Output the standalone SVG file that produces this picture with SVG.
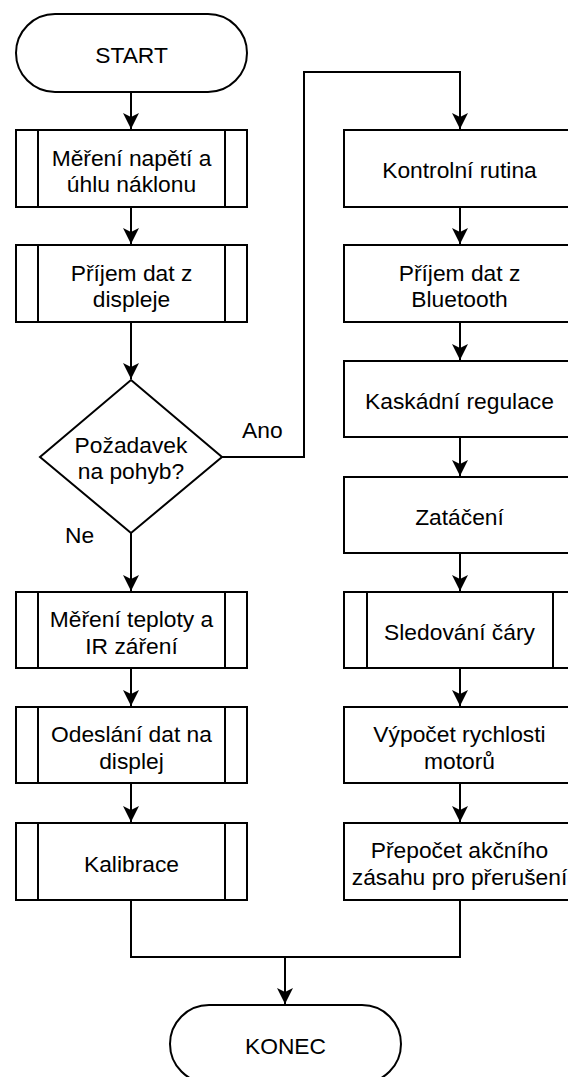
<svg xmlns="http://www.w3.org/2000/svg" width="568" height="1077" viewBox="0 0 568 1077">
  <style>
    .shape { fill: #ffffff; stroke: #000000; stroke-width: 2; }
    .bar { fill: none; stroke: #000000; stroke-width: 2; }
    .edge { fill: none; stroke: #000000; stroke-width: 2; }
    text { font-family: "Liberation Sans", Arial, sans-serif; font-size: 22.8px; fill: #000000; text-anchor: middle; }
    .lbl { text-anchor: start; }
  </style>
  <defs>
    <marker id="arrow" markerUnits="userSpaceOnUse" markerWidth="16" markerHeight="16" viewBox="0 0 16 16" refX="16" refY="8" orient="auto">
      <path d="M0,0 L16,8 L0,16 L4,8 Z" fill="#000000"/>
    </marker>
  </defs>
  <rect width="568" height="1077" fill="#ffffff"/>

  <!-- connectors -->
  <g id="connectors">
    <path class="edge" d="M131,92 V129" marker-end="url(#arrow)"/>
    <path class="edge" d="M131,207 V244" marker-end="url(#arrow)"/>
    <path class="edge" d="M131,322 V379" marker-end="url(#arrow)"/>
    <path class="edge" d="M131,533 V591" marker-end="url(#arrow)"/>
    <path class="edge" d="M131,668 V706" marker-end="url(#arrow)"/>
    <path class="edge" d="M131,783 V822" marker-end="url(#arrow)"/>
    <path class="edge" d="M222,457 H304 V72 H460 V129" marker-end="url(#arrow)"/>
    <path class="edge" d="M460,207 V244" marker-end="url(#arrow)"/>
    <path class="edge" d="M460,322 V360" marker-end="url(#arrow)"/>
    <path class="edge" d="M460,437 V476" marker-end="url(#arrow)"/>
    <path class="edge" d="M460,553 V591" marker-end="url(#arrow)"/>
    <path class="edge" d="M460,668 V706" marker-end="url(#arrow)"/>
    <path class="edge" d="M460,783 V822" marker-end="url(#arrow)"/>
    <path class="edge" d="M131,900 V957 H285 V1004" marker-end="url(#arrow)"/>
    <path class="edge" d="M460,900 V957 H285"/>
    <text class="lbl" x="242" y="438">Ano</text>
    <text class="lbl" x="65" y="543">Ne</text>
  </g>

  <!-- terminators -->
  <g id="start">
    <rect class="shape" x="16" y="14" width="231" height="78" rx="39" ry="39"/>
    <text x="131.5" y="63">START</text>
  </g>
  <g id="konec">
    <rect class="shape" x="170" y="1005" width="231" height="78" rx="39" ry="39"/>
    <text x="285.5" y="1054">KONEC</text>
  </g>

  <!-- left column -->
  <g id="mereni-napeti">
    <rect class="shape" x="16" y="130" width="231" height="77"/>
    <path class="bar" d="M38,130 V207 M225,130 V207"/>
    <text x="131.5" y="166">Měření napětí a</text>
    <text x="131.5" y="192">úhlu náklonu</text>
  </g>
  <g id="prijem-displej">
    <rect class="shape" x="16" y="245" width="231" height="77"/>
    <path class="bar" d="M38,245 V322 M225,245 V322"/>
    <text x="131.5" y="281">Příjem dat z</text>
    <text x="131.5" y="307">displeje</text>
  </g>
  <g id="pozadavek">
    <path class="shape" d="M131,380 L222,457 L131,533 L40,457 Z"/>
    <text x="131" y="453">Požadavek</text>
    <text x="131" y="479">na pohyb?</text>
  </g>
  <g id="mereni-teploty">
    <rect class="shape" x="16" y="592" width="231" height="76"/>
    <path class="bar" d="M38,592 V668 M225,592 V668"/>
    <text x="131.5" y="627">Měření teploty a</text>
    <text x="131.5" y="654">IR záření</text>
  </g>
  <g id="odeslani">
    <rect class="shape" x="16" y="707" width="231" height="76"/>
    <path class="bar" d="M38,707 V783 M225,707 V783"/>
    <text x="131.5" y="742">Odeslání dat na</text>
    <text x="131.5" y="769">displej</text>
  </g>
  <g id="kalibrace">
    <rect class="shape" x="16" y="823" width="231" height="77"/>
    <path class="bar" d="M38,823 V900 M225,823 V900"/>
    <text x="131.5" y="872">Kalibrace</text>
  </g>

  <!-- right column -->
  <g id="kontrolni-rutina">
    <rect class="shape" x="344" y="130" width="231" height="77"/>
    <text x="459.5" y="178">Kontrolní rutina</text>
  </g>
  <g id="prijem-bluetooth">
    <rect class="shape" x="344" y="245" width="231" height="77"/>
    <text x="459.5" y="281">Příjem dat z</text>
    <text x="459.5" y="307">Bluetooth</text>
  </g>
  <g id="kaskadni-regulace">
    <rect class="shape" x="344" y="361" width="231" height="76"/>
    <text x="459.5" y="409">Kaskádní regulace</text>
  </g>
  <g id="zataceni">
    <rect class="shape" x="344" y="477" width="231" height="76"/>
    <text x="459.5" y="525">Zatáčení</text>
  </g>
  <g id="sledovani-cary">
    <rect class="shape" x="344" y="592" width="231" height="76"/>
    <path class="bar" d="M367,592 V668 M553,592 V668"/>
    <text x="459.5" y="640">Sledování čáry</text>
  </g>
  <g id="vypocet-rychlosti">
    <rect class="shape" x="344" y="707" width="231" height="76"/>
    <text x="459.5" y="742">Výpočet rychlosti</text>
    <text x="459.5" y="769">motorů</text>
  </g>
  <g id="prepocet">
    <rect class="shape" x="344" y="823" width="231" height="77"/>
    <text x="459.5" y="858">Přepočet akčního</text>
    <text x="459.5" y="885">zásahu pro přerušení</text>
  </g>
</svg>
